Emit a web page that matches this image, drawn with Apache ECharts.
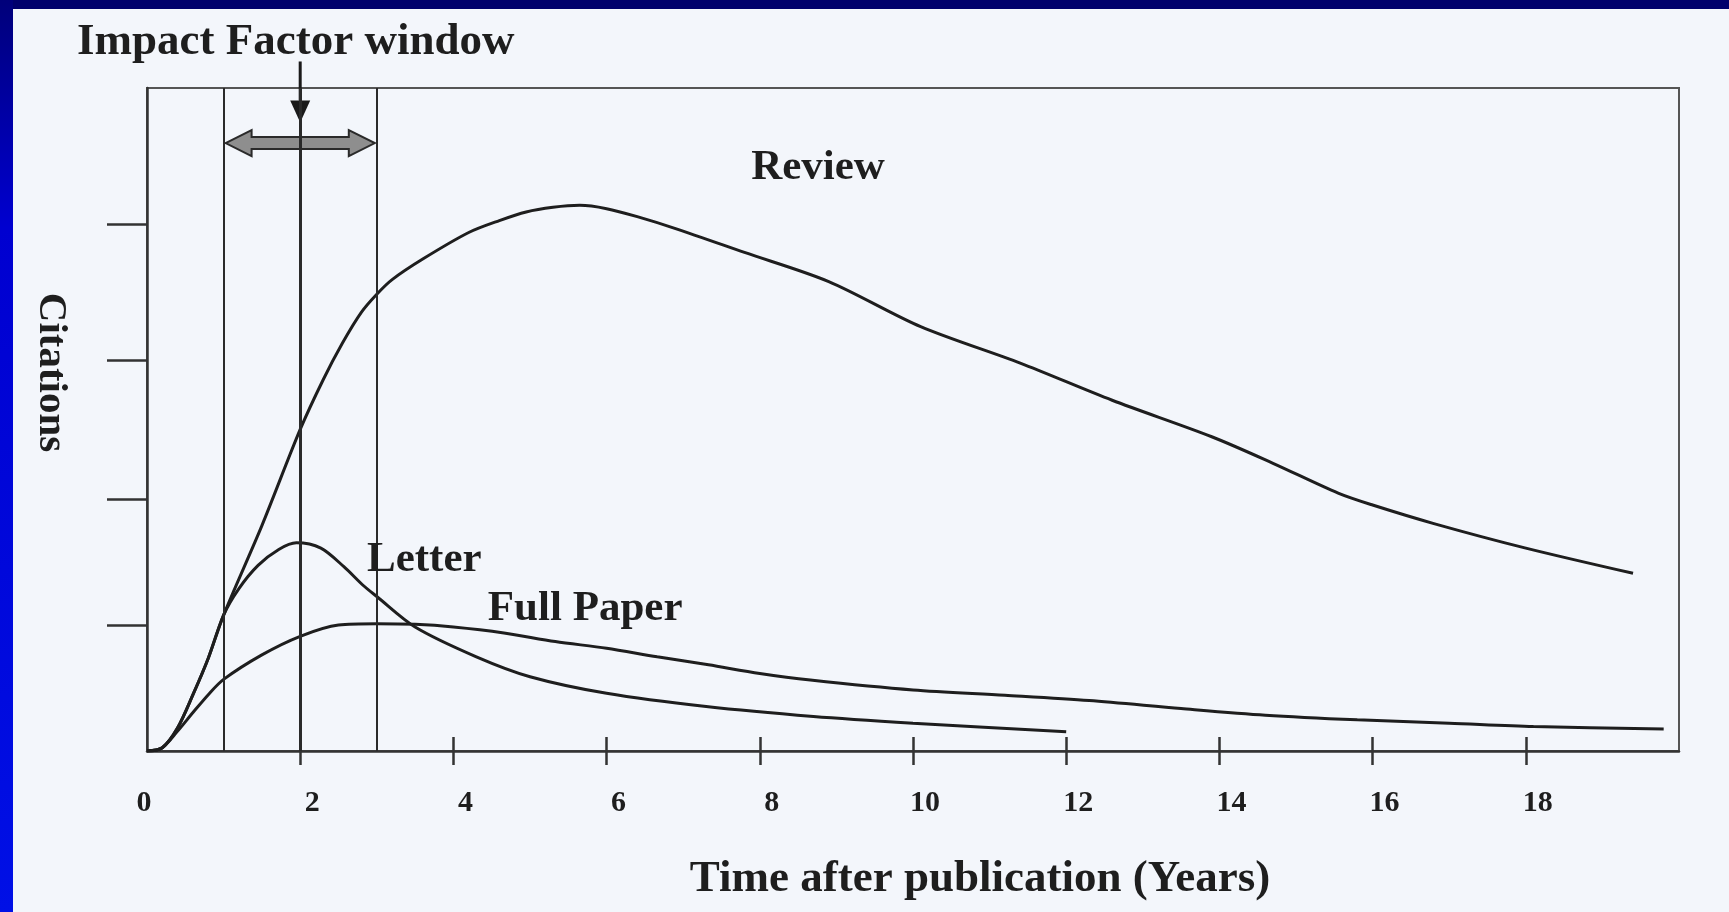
<!DOCTYPE html>
<html><head><meta charset="utf-8">
<script src="https://cdn.jsdelivr.net/npm/echarts@6/dist/echarts.min.js"></script>
<style>html,body{margin:0;padding:0;background:#f3f6fb;}#c{width:1729px;height:912px;}</style>
</head><body><div id="c"></div>
<script>
// ---- data ----
const xLabelValues = [0, 2, 4, 6, 8, 10, 12, 14, 16, 18];
const xTickOutside = [2, 4, 6, 8, 10, 12, 14, 16, 18];
const xTickInside = [4, 6, 8, 10, 12, 14, 16, 18];
const yTickValues = [19, 38, 59, 79.5];
const windowLines = [1, 2, 3];
const reviewData = [[0,0],[0.2,0.5],[0.4,3.5],[0.6,8.5],[0.8,14],[1.0,20.5],[1.5,34],[2.0,48.5],[2.3,56],[2.55,61.5],[2.8,66.2],[3.0,68.9],[3.2,71.1],[3.6,74.2],[4.2,78.2],[4.6,80.0],[4.95,81.3],[5.3,82.0],[5.65,82.3],[6.0,81.8],[6.4,80.6],[6.9,78.8],[7.8,75.2],[8.9,70.8],[10.1,64.0],[11.4,58.5],[12.6,52.9],[13.9,47.4],[14.7,43.4],[15.55,38.9],[16.0,37.1],[16.8,34.3],[18.0,30.6],[19.4,26.8]];
const letterData = [[0,0],[0.2,0.5],[0.4,3.5],[0.6,8.5],[0.8,14],[1.0,20.5],[1.2,24.5],[1.45,28],[1.72,30.4],[1.95,31.4],[2.27,30.6],[2.57,27.8],[2.82,25.0],[3.0,23.3],[3.5,18.7],[4.3,14.2],[5.0,11.2],[6.0,8.7],[7.3,6.7],[8.7,5.2],[10.0,4.2],[12.0,2.9]];
const fullPaperData = [[0,0],[0.2,0.5],[0.4,3.0],[0.6,5.8],[0.8,8.5],[1.0,10.8],[1.5,14.5],[2.0,17.3],[2.5,19.0],[3.0,19.2],[3.5,19.1],[4.0,18.7],[4.66,17.8],[5.33,16.5],[6.0,15.5],[6.66,14.2],[7.33,13.0],[8.0,11.7],[8.66,10.7],[10.0,9.2],[11.2,8.4],[12.3,7.6],[13.5,6.4],[14.6,5.4],[15.8,4.7],[17.0,4.2],[18.1,3.7],[19.8,3.3]];
const curveLabels = [["Review", 8.76, 88.0], ["Letter", 3.62, 28.9], ["Full Paper", 5.72, 21.5]];
const windowArrow = [[1, 3, 91.7]];
const pointerArrow = [[2, 104, 94.8]];

const SERIF = '"Liberation Serif", "DejaVu Serif", serif';
const INK = '#1e1e1e';
const chart = echarts.init(document.getElementById('c'), null, {renderer: 'canvas'});

const lineSeries = (name, data) => ({
  name, type: 'line', data, smooth: 0.3, showSymbol: false,
  lineStyle: {color: INK, width: 3}, silent: true, z: 3
});

const option = {
  animation: false,
  backgroundColor: '#f3f6fb',
  title: {
    text: 'Impact Factor window', left: 72, top: 15,
    textStyle: {fontFamily: SERIF, fontWeight: 'bold', fontSize: 45, color: INK}
  },
  graphic: [
    {type: 'rect', shape: {x: 0, y: 0, width: 1729, height: 9}, style: {fill: '#00006c'}, z: 100},
    {type: 'rect', shape: {x: 0, y: 0, width: 13, height: 912},
     style: {fill: new echarts.graphic.LinearGradient(0, 0, 0, 1, [{offset: 0, color: '#00007a'}, {offset: 0.25, color: '#0000d0'}, {offset: 1, color: '#0010e6'}])}, z: 100}
  ],
  grid: {left: 147, right: 50, top: 88, bottom: 161, show: true, borderColor: '#555', borderWidth: 2, backgroundColor: 'transparent'},
  xAxis: [{
    type: 'value', min: 0, max: 20, interval: 2, position: 'bottom',
    axisLine: {show: true, onZero: false, lineStyle: {color: '#333', width: 2.5}},
    axisTick: {show: true, customValues: xTickOutside, length: 14, lineStyle: {color: '#333', width: 2.5}},
    axisLabel: {
      customValues: xLabelValues, margin: 37, fontFamily: SERIF, fontWeight: 'bold', fontSize: 30, color: INK, padding: [0, 0, 0, 24],
      formatter: v => (v === 0 ? '{z|0}' : String(v)),
      rich: {z: {fontFamily: SERIF, fontWeight: 'bold', fontSize: 30, color: INK, padding: [0, 30, 0, 0]}}
    },
    splitLine: {show: false},
    name: 'Time after publication (Years)', nameLocation: 'middle', nameGap: 106,
    nameTextStyle: {fontFamily: SERIF, fontWeight: 'bold', fontSize: 45, color: INK, padding: [0, 0, 0, 134]}
  }, {
    type: 'value', min: 0, max: 20, interval: 2, position: 'bottom',
    axisLine: {show: false},
    axisTick: {show: true, inside: true, customValues: xTickInside, length: 14, lineStyle: {color: '#333', width: 2.5}},
    axisLabel: {show: false}, splitLine: {show: false}
  }],
  yAxis: {
    type: 'value', min: 0, max: 100,
    axisLine: {show: true, onZero: false, lineStyle: {color: '#333', width: 2.5}},
    axisTick: {show: true, customValues: yTickValues, length: 40, lineStyle: {color: '#333', width: 2.5}},
    axisLabel: {show: false}, splitLine: {show: false},
    name: 'Citations', nameLocation: 'middle', nameRotate: -90, nameGap: 76,
    nameTextStyle: {fontFamily: SERIF, fontWeight: 'bold', fontSize: 41, color: INK, padding: [0, 94, 0, 0]}
  },
  series: [
    Object.assign(lineSeries('Review', reviewData), {
      markLine: {
        silent: true, symbol: 'none', label: {show: false}, animation: false,
        data: windowLines.map(v => ({xAxis: v, lineStyle: {color: '#2a2a2a', width: v === 2 ? 3 : 2, type: 'solid'}}))
      }
    }),
    lineSeries('Letter', letterData),
    lineSeries('Full Paper', fullPaperData),
    {
      type: 'custom', name: 'window', data: windowArrow, clip: false, silent: true, z: 4,
      encode: {x: [0, 1], y: 2},
      renderItem: (params, api) => {
        const a = api.coord([api.value(0), api.value(2)]);
        const b = api.coord([api.value(1), api.value(2)]);
        const hl = 26, hh = 13, sh = 6, y = a[1], x1 = a[0] + 2, x2 = b[0] - 2;
        return {type: 'polygon', shape: {points: [[x1, y], [x1 + hl, y - hh], [x1 + hl, y - sh], [x2 - hl, y - sh], [x2 - hl, y - hh], [x2, y], [x2 - hl, y + hh], [x2 - hl, y + sh], [x1 + hl, y + sh], [x1 + hl, y + hh]]},
          style: {fill: '#8e8e8e', stroke: '#2a2a2a', lineWidth: 2}};
      }
    },
    {
      type: 'custom', name: 'pointer', data: pointerArrow, clip: false, silent: true, z: 4,
      encode: {x: 0, y: [1, 2]},
      renderItem: (params, api) => {
        const top = api.coord([api.value(0), api.value(1)]);
        const tip = api.coord([api.value(0), api.value(2)]);
        const headLen = 22, halfW = 10;
        return {type: 'group', children: [
          {type: 'line', shape: {x1: top[0], y1: top[1], x2: tip[0], y2: tip[1] - headLen}, style: {stroke: '#1a1a1a', lineWidth: 3}},
          {type: 'polygon', shape: {points: [[tip[0] - halfW, tip[1] - headLen], [tip[0] + halfW, tip[1] - headLen], [tip[0], tip[1]]]}, style: {fill: '#1a1a1a'}}
        ]};
      }
    },
    {
      type: 'custom', name: 'labels', data: curveLabels, clip: false, silent: true, z: 5,
      encode: {x: 1, y: 2},
      renderItem: (params, api) => {
        const p = api.coord([api.value(1), api.value(2)]);
        return {type: 'text', x: p[0], y: p[1], style: {text: curveLabels[params.dataIndex][0], fontFamily: SERIF, fontWeight: 'bold', fontSize: 43, fill: INK, align: 'center', verticalAlign: 'middle'}};
      }
    }
  ]
};
chart.setOption(option);
</script></body></html>
